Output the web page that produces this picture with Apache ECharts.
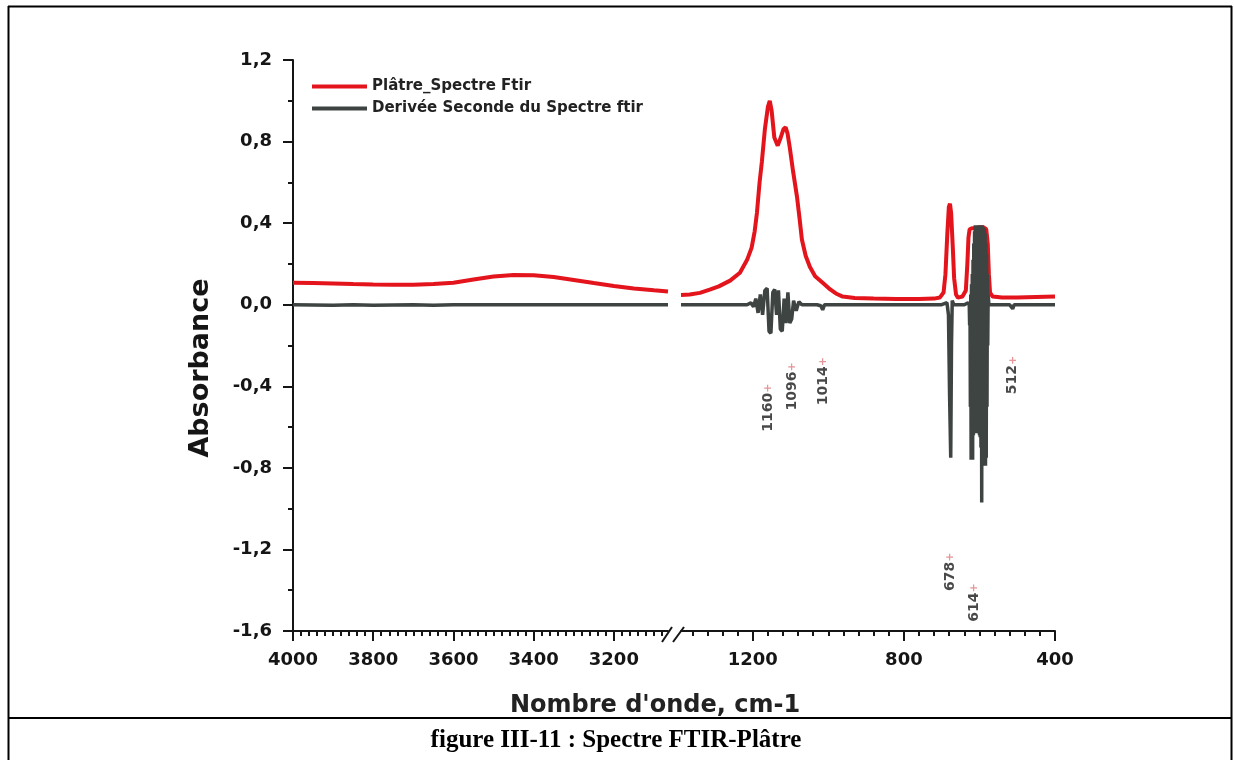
<!DOCTYPE html>
<html>
<head>
<meta charset="utf-8">
<script src="https://cdn.jsdelivr.net/npm/echarts@6/dist/echarts.min.js"></script>
<style>
  html, body { margin: 0; padding: 0; background: #fff; }
  #chart { width: 1234px; height: 760px; }
</style>
</head>
<body>
<div id="chart"></div>
<script>
// ---- Spectrum data (wavenumber in cm-1, absorbance) ----
// High-wavenumber window, 4000 - 3065 cm-1
const ftirHighWn = [4000, 3950, 3900, 3850, 3800, 3750, 3700, 3650, 3600, 3550, 3500, 3450, 3400, 3350, 3300, 3250, 3200, 3150, 3100, 3065];
const ftirHighAbs = [0.108, 0.106, 0.104, 0.101, 0.099, 0.098, 0.098, 0.101, 0.108, 0.124, 0.138, 0.146, 0.145, 0.136, 0.121, 0.106, 0.092, 0.080, 0.071, 0.065];

// Fingerprint window, 1390 - 400 cm-1
const ftirLowWn = [1390, 1367, 1340, 1314, 1290, 1260, 1234, 1215, 1203, 1195, 1189, 1182, 1176, 1168, 1160, 1155, 1150, 1143, 1134, 1126, 1119, 1113, 1108, 1102, 1093, 1083, 1076, 1070, 1060, 1049, 1035, 1015, 995, 980, 962, 930, 880, 820, 760, 720, 705,
  700, 695, 690, 685, 681, 678, 675, 671, 667, 662, 657, 645, 636, 632, 629, 626, 620, 610, 600, 590, 582, 578, 575, 572, 565, 540, 500, 450, 400];
const ftirLowAbs = [0.048, 0.050, 0.058, 0.074, 0.090, 0.118, 0.157, 0.220, 0.280, 0.360, 0.450, 0.600, 0.700, 0.860, 0.970, 1.000, 0.950, 0.820, 0.780, 0.820, 0.860, 0.870, 0.840, 0.770, 0.650, 0.530, 0.420, 0.320, 0.240, 0.186, 0.140, 0.108, 0.075, 0.055, 0.040, 0.033, 0.030, 0.028, 0.028, 0.030, 0.035,
  0.035, 0.060, 0.150, 0.350, 0.480, 0.495, 0.450, 0.300, 0.130, 0.050, 0.035, 0.040, 0.070, 0.200, 0.330, 0.370, 0.375, 0.375, 0.380, 0.380, 0.370, 0.300, 0.150, 0.060, 0.040, 0.035, 0.035, 0.038, 0.040];

// Second derivative of the spectrum
const derivHighWn = [4000, 3900, 3850, 3800, 3700, 3650, 3600, 3500, 3400, 3300, 3200, 3065];
const derivHighVal = [0.0, -0.003, 0.0, -0.003, 0.0, -0.003, 0.0, 0.0, 0.0, 0.0, 0.0, 0.0];

const derivLowWn = [1390, 1300, 1240, 1215, 1205, 1198, 1192, 1186, 1180, 1174, 1168, 1162, 1157, 1152, 1147, 1142, 1137, 1132, 1127, 1122, 1117, 1112, 1107, 1102, 1097, 1092, 1085, 1078, 1070, 1030, 1020, 1015, 1010, 990,
  700, 686, 682, 679, 676, 674, 672, 668, 640, 630, 627,
  626, 625, 624, 623, 622, 621, 620, 619, 618, 617, 616, 615, 614, 613, 612, 611, 610, 609, 608, 607, 606, 605, 604, 603, 602, 601,
  600, 599, 598, 597, 596, 595, 594, 593, 592, 591, 590, 589, 588, 587, 586, 585, 584, 583, 582, 581, 580, 579, 578, 577,
  575, 520, 512, 508, 400];
const derivLowVal = [0.0, 0.0, 0.0, 0.0, 0.01, -0.01, 0.03, -0.04, 0.05, -0.05, 0.07, 0.08, -0.13, -0.14, 0.06, 0.075, -0.05, 0.07, -0.12, -0.13, 0.03, -0.09, 0.06, -0.09, -0.07, 0.02, -0.03, 0.015, 0.0, 0.0, -0.005, -0.025, 0.0, 0.0,
  0.0, 0.01, -0.05, -0.45, -0.75, -0.2, 0.02, 0.0, 0.0, 0.01, 0.0,
  -0.1, 0.0, -0.5, 0.05, -0.76, 0.1, -0.7, 0.15, -0.76, 0.22, -0.64, 0.3, -0.63, 0.36, -0.63, 0.39, -0.63, 0.39, -0.63, 0.39, -0.63, 0.39, -0.63, 0.39, -0.63, 0.39,
  -0.64, 0.39, -0.65, 0.39, -0.7, 0.39, -0.97, 0.39, -0.7, 0.38, -0.68, 0.38, -0.72, 0.37, -0.79, 0.35, -0.79, 0.3, -0.75, 0.25, -0.5, 0.15, -0.2, 0.05,
  0.0, 0.0, -0.02, 0.0, 0.0];

// Annotated band positions (cm-1) and the level where each label sits
const peakMarks = [1160, 1096, 1014, 678, 614, 512];
const peakMarkLevel = [-0.505, -0.40, -0.375, -1.31, -1.46, -0.345];

// Tick values
const xHighMajor = [3200, 3400, 3600, 3800, 4000];
const xLowMajor = [400, 800, 1200];

const seriesNames = ['Plâtre_Spectre Ftir', 'Derivée Seconde du Spectre ftir'];

// ---- Layout ----
const G_TOP = 60, G_H = 571;
const G1_LEFT = 293, G1_W = 375;
const G2_LEFT = 681, G2_W = 374;

const RED = '#e3141c';
const GREY = '#3e4441';
const INK = '#151515';
const FONT = '"DejaVu Sans", "Liberation Sans", sans-serif';

function range(a, b, step) { const r = []; for (let v = a; v <= b + 1e-9; v += step) r.push(v); return r; }
function zip(xs, ys) { return xs.map((x, i) => [x, ys[i]]); }

const xHighMinor = range(3080, 4000, 20);
const xLowMinor = range(400, 1390, 40);

const labelStyle = { fontFamily: FONT, fontWeight: 'bold', fontSize: 18, color: INK };

function majorX(gridIndex, min, max, ticks) {
  return {
    type: 'value', gridIndex, min, max, inverse: true, position: 'bottom',
    axisLine: { show: true, onZero: false, lineStyle: { color: INK, width: 2 } },
    axisTick: { show: true, inside: false, length: 10, lineStyle: { color: INK, width: 2 }, customValues: ticks },
    axisLabel: Object.assign({ show: true, margin: 20, customValues: ticks, formatter: v => String(v) }, labelStyle),
    splitLine: { show: false }
  };
}
function minorX(gridIndex, min, max, ticks) {
  return {
    type: 'value', gridIndex, min, max, inverse: true, position: 'bottom',
    axisLine: { show: false, onZero: false },
    axisTick: { show: true, inside: false, length: 5, lineStyle: { color: INK, width: 2 }, customValues: ticks },
    axisLabel: { show: false },
    splitLine: { show: false }
  };
}

const chart = echarts.init(document.getElementById('chart'), null, { renderer: 'canvas' });

const lineCommon = { type: 'line', showSymbol: false, symbol: 'none', silent: true, animation: false, clip: true };

const option = {
  animation: false,
  backgroundColor: '#fff',
  grid: [
    { left: G1_LEFT, top: G_TOP, width: G1_W, height: G_H },
    { left: G2_LEFT, top: G_TOP, width: G2_W, height: G_H }
  ],
  legend: {
    data: seriesNames,
    orient: 'vertical',
    left: 307, top: 74,
    itemWidth: 55, itemHeight: 4, itemGap: 7,
    icon: 'rect',
    selectedMode: false,
    textStyle: { fontFamily: FONT, fontWeight: 'bold', fontSize: 15, color: '#222' }
  },
  xAxis: [
    majorX(0, 3065, 4000, xHighMajor),
    minorX(0, 3065, 4000, xHighMinor),
    majorX(1, 400, 1390, xLowMajor),
    minorX(1, 400, 1390, xLowMinor)
  ],
  yAxis: [
    {
      type: 'value', gridIndex: 0, min: -1.6, max: 1.2, interval: 0.4,
      axisLine: { show: true, onZero: false, lineStyle: { color: INK, width: 2 } },
      axisTick: { show: true, length: 10, lineStyle: { color: INK, width: 2 } },
      minorTick: { show: true, splitNumber: 2, length: 5, lineStyle: { color: INK, width: 2 } },
      axisLabel: Object.assign({ margin: 21, formatter: v => v.toFixed(1).replace('.', ',') }, labelStyle),
      splitLine: { show: false }
    },
    { type: 'value', gridIndex: 1, min: -1.6, max: 1.2, interval: 0.4, show: false, splitLine: { show: false } }
  ],
  series: [
    Object.assign({}, lineCommon, { name: seriesNames[0], xAxisIndex: 0, yAxisIndex: 0, z: 3,
      color: RED, lineStyle: { color: RED, width: 4 }, data: zip(ftirHighWn, ftirHighAbs) }),
    Object.assign({}, lineCommon, { name: seriesNames[0], xAxisIndex: 2, yAxisIndex: 1, z: 3,
      color: RED, lineStyle: { color: RED, width: 4 }, data: zip(ftirLowWn, ftirLowAbs) }),
    Object.assign({}, lineCommon, { name: seriesNames[1], xAxisIndex: 0, yAxisIndex: 0, z: 4,
      color: GREY, lineStyle: { color: GREY, width: 3.5 }, data: zip(derivHighWn, derivHighVal) }),
    Object.assign({}, lineCommon, { name: seriesNames[1], xAxisIndex: 2, yAxisIndex: 1, z: 4,
      color: GREY, lineStyle: { color: GREY, width: 3.5, join: 'bevel' }, data: zip(derivLowWn, derivLowVal) }),
    {
      type: 'scatter', name: 'bands', xAxisIndex: 2, yAxisIndex: 1, silent: true, z: 5,
      symbolSize: 0,
      data: zip(peakMarks, peakMarkLevel),
      label: {
        show: true, position: 'inside', rotate: 90,
        color: '#1a1a1a', fontFamily: FONT, fontWeight: 'bold', fontSize: 14, textBorderWidth: 0,
        formatter: p => '{t|' + p.value[0] + '}{p|+}',
        rich: {
          t: { fontFamily: FONT, fontWeight: 'bold', fontSize: 14, color: '#1a1a1a', textBorderWidth: 0 },
          p: { fontFamily: FONT, fontSize: 11, color: '#e07a80', textBorderWidth: 0 }
        }
      }
    }
  ],
  graphic: [
    // page frame
    { type: 'line', shape: { x1: 8, y1: 6.5, x2: 1232, y2: 6.5 }, style: { stroke: '#000', lineWidth: 2 } },
    { type: 'line', shape: { x1: 8.5, y1: 6, x2: 8.5, y2: 760 }, style: { stroke: '#000', lineWidth: 2 } },
    { type: 'line', shape: { x1: 1231.5, y1: 6, x2: 1231.5, y2: 760 }, style: { stroke: '#000', lineWidth: 2 } },
    { type: 'line', shape: { x1: 8, y1: 718, x2: 1232, y2: 718 }, style: { stroke: '#000', lineWidth: 2 } },
    // axis break marks
    { type: 'line', shape: { x1: G1_LEFT + G1_W - 6, y1: G_TOP + G_H + 11, x2: G1_LEFT + G1_W + 4, y2: G_TOP + G_H - 4 }, style: { stroke: INK, lineWidth: 2 } },
    { type: 'line', shape: { x1: G2_LEFT - 8, y1: G_TOP + G_H + 11, x2: G2_LEFT + 3, y2: G_TOP + G_H - 4 }, style: { stroke: INK, lineWidth: 2 } },
    // axis titles
    { type: 'text', x: 201, y: 368, rotation: Math.PI / 2,
      style: { text: 'Absorbance', align: 'center', verticalAlign: 'middle', font: 'bold 27px "DejaVu Sans", sans-serif', fill: INK } },
    { type: 'text', x: 655, y: 706,
      style: { text: "Nombre d'onde, cm-1", align: 'center', verticalAlign: 'middle', font: 'bold 24px "DejaVu Sans", sans-serif', fill: '#222' } },
    // caption
    { type: 'text', x: 616, y: 741,
      style: { text: 'figure III-11 : Spectre FTIR-Plâtre', align: 'center', verticalAlign: 'middle', font: 'bold 25px "Liberation Serif", serif', fill: '#000' } }
  ]
};

chart.setOption(option);
</script>
</body>
</html>
